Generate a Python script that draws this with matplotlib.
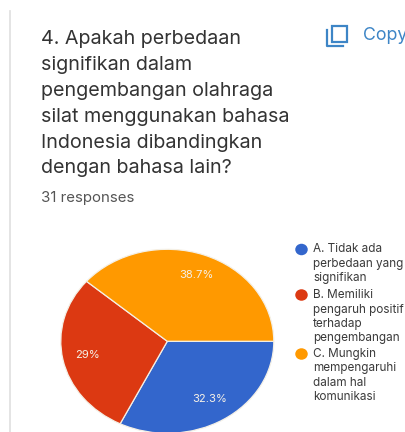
import matplotlib
matplotlib.use('Agg')
import matplotlib.pyplot as plt
from matplotlib.patches import Rectangle, Ellipse
from matplotlib.lines import Line2D

W, H = 406, 432
title_lines = ["4. Apakah perbedaan", "signifikan dalam", "pengembangan olahraga",
               "silat menggunakan bahasa", "Indonesia dibandingkan", "dengan bahasa lain?"]
responses = "31 responses"
values = [32.3, 29.0, 38.7]
pct_labels = ["32.3%", "29%", "38.7%"]
colors = ["#3366cc", "#dc3912", "#ff9900"]
legend_entries = [["A. Tidak ada", "perbedaan yang", "signifikan"],
                  ["B. Memiliki", "pengaruh positif", "terhadap", "pengembangan"],
                  ["C. Mungkin", "mempengaruhi", "dalam hal", "komunikasi"]]

plt.rcParams['font.family'] = ['Inter', 'Roboto', 'DejaVu Sans']
fig = plt.figure(figsize=(W/100, H/100), dpi=100, facecolor='white')

def X(p): return p / W
def Y(p): return 1 - p / H

fig.add_artist(Line2D([X(10.5), X(10.5)], [Y(11), Y(432)], color='#e2e2e2', lw=1.3))

ys = [38.5, 64.5, 90.5, 116.5, 142.5, 168]
for t, y in zip(title_lines, ys):
    fig.text(X(41.5), Y(y), t, fontsize=14.2, color='#333333', va='center', ha='left')
fig.text(X(41.5), Y(198), responses, fontsize=10.8, color='#555555', va='center', ha='left')

blue = '#3d85c6'
fig.add_artist(Rectangle((X(332.5), Y(41.5)), 14.5/W, 15.5/H, fill=False, ec=blue, lw=1.6, transform=fig.transFigure))
fig.add_artist(Line2D([X(327.5), X(327.5), X(343)], [Y(30), Y(46), Y(46)], color=blue, lw=1.6))
fig.text(X(363), Y(35), "Copy", fontsize=12.8, color=blue, va='center', ha='left')

cx, cy, rx, ry = 167.3, 341.3, 106.5, 92
ax = fig.add_axes([X(cx-rx), Y(cy+ry), 2*rx/W, 2*ry/H])
ax.pie(values, colors=colors, startangle=0, counterclock=False, radius=1,
       wedgeprops=dict(edgecolor='#f4f0e6', linewidth=0.9))
ax.set_xlim(-1, 1); ax.set_ylim(-1, 1)
ax.set_aspect('auto')
for p in ax.patches:
    p.set_clip_on(False)

for t, (px, py) in zip(pct_labels, [(210, 399), (87.5, 355.5), (196, 275)]):
    fig.text(X(px), Y(py), t, fontsize=8.1, color='#f5f0e6', ha='center', va='center')

line_ys = [[249.5, 263.5, 277.5], [295, 309.5, 323.5, 337.5], [354, 368, 382.5, 396.5]]
dot_ys = [249.5, 295, 354]
for lines, yy, dy, c in zip(legend_entries, line_ys, dot_ys, colors):
    fig.add_artist(Ellipse((X(301.5), Y(dy)), 12.5/W, 11.5/H, fc=c, ec='none', transform=fig.transFigure))
    for t, y in zip(lines, yy):
        fig.text(X(313), Y(y), t, fontsize=8.45, color='#3a3a3a', ha='left', va='center')

fig.savefig('out.png', dpi=100)
